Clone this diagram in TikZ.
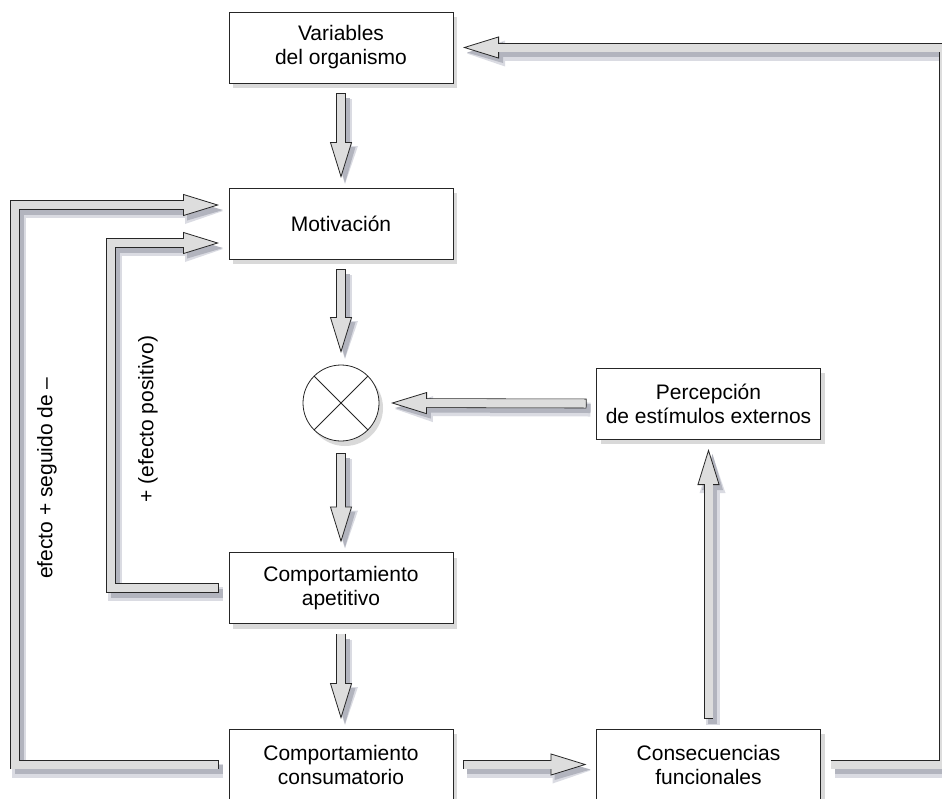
\documentclass[tikz,border=0pt]{standalone}
\usepackage{fontspec}
\setmainfont{Liberation Sans}
\usetikzlibrary{arrows.meta, shadows}
\definecolor{arrowfill}{RGB}{221,221,221}
\definecolor{shadowgray}{RGB}{178,180,190}
\definecolor{shadowlight}{RGB}{218,219,226}

\begin{document}
\begin{tikzpicture}[x=1pt, y=-1pt,
    box/.style={draw=black!85, line width=0.8pt, fill=white, minimum width=224pt, minimum height=71pt, align=center, outer sep=10pt, font=\fontsize{21}{24}\selectfont, drop shadow={shadow xshift=4pt, shadow yshift=-5pt, opacity=0.3}},
    lbl/.style={rotate=90, font=\fontsize{21}{24}\selectfont},
    fatarrow/.style={
        preaction={draw=shadowlight, line width=14pt, shorten <=0pt, shorten >=0pt, transform canvas={shift={(4pt,-6pt)}}, arrows={-{Triangle[length=38pt 0 0, width=26pt 0 0, line width=0pt]}}},
        preaction={draw=shadowgray, line width=9pt, shorten <=0pt, shorten >=0pt, transform canvas={shift={(4pt,-5pt)}}, arrows={-{Triangle[length=36pt 0 0, width=21pt 0 0, line width=0pt]}}},
        preaction={draw=black!85, line width=9.6pt, arrows=-, shorten <=0pt, shorten >=34pt},
        draw=arrowfill, line width=8pt, shorten <=0.8pt,
        -{Triangle[length=36pt 0 0, width=22pt 0 0, line width=0.8pt, color=black!85, fill=arrowfill]},
        postaction={draw=arrowfill, line width=8pt, arrows=-, shorten <=0.8pt, shorten >=34pt}}]
    \useasboundingbox (0,0) rectangle (942,798);
    \clip (0,0) rectangle (942,798);

    \node[box] (var) at (341,47.5) {Variables\\del organismo};
    \node[box] (mot) at (341,223.5) {Motivación};
    \node[circle, draw=black!85, line width=0.8pt, fill=white, minimum size=76pt, outer sep=12pt, drop shadow={shadow xshift=4pt, shadow yshift=-5pt, opacity=0.3},
        path picture={\draw[line width=0.8pt, black!85] (path picture bounding box.north west) -- (path picture bounding box.south east)
            (path picture bounding box.north east) -- (path picture bounding box.south west);}] (mix) at (341,403) {};
    \node[box] (ape) at (341,588) {Comportamiento\\apetitivo};
    \node[box] (cons) at (341,764.5) {Comportamiento\\consumatorio};
    \node[box] (csq) at (708.5,764.5) {Consecuencias\\funcionales};
    \node[box] (perc) at (708.5,403.5) {Percepción\\de estímulos externos};

    \node[lbl] (lblout) at (47,478) {efecto + seguido de –};
    \node[lbl] (lblin) at (148,419) {+ (efecto positivo)};

    \coordinate (inx) at (111,0);
    \coordinate (outx) at (15,0);
    \coordinate (rgtx) at (943.5,0);

    \draw[fatarrow] (var.south) -- (mot.north);
    \draw[fatarrow] (mot.south) -- (mix.north);
    \draw[fatarrow] (mix.south) -- (ape.north);
    \draw[fatarrow] (ape.south) -- (cons.north);
    \draw[fatarrow] (cons.east) -- (csq.west);
    \draw[fatarrow] (csq.north) -- (perc.south);
    \draw[fatarrow] (perc.west) -- (mix.east);
    \draw[fatarrow] (ape.west) -- (ape.west -| inx) |- ([yshift=-19.5pt]mot.west);
    \draw[fatarrow] (cons.west) -- (cons.west -| outx) |- ([yshift=18.5pt]mot.west);
    \draw[fatarrow] (csq.east) -- (csq.east -| rgtx) |- (var.east);
\end{tikzpicture}
\end{document}
